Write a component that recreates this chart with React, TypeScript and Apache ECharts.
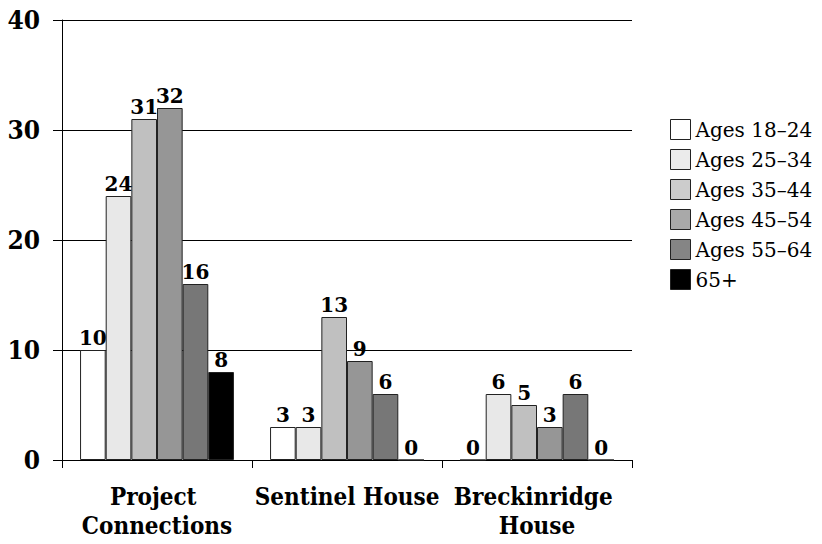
import React, { useEffect, useRef } from "react";
import * as echarts from "echarts";

const categories = ["Project Connections", "Sentinel House", "Breckinridge House"];
const seriesNames = ["Ages 18–24", "Ages 25–34", "Ages 35–44", "Ages 45–54", "Ages 55–64", "65+"];
const seriesValues = [
  [10, 3, 0],
  [24, 3, 6],
  [31, 13, 5],
  [32, 9, 3],
  [16, 6, 6],
  [8, 0, 0],
];
const seriesColors = ["#ffffff", "#e8e8e8", "#c0c0c0", "#969696", "#777777", "#000000"];
const legendColors = ["#ffffff", "#ebebeb", "#cccccc", "#a9a9a9", "#858585", "#000000"];

export default function App() {
  const ref = useRef<HTMLDivElement>(null);
  useEffect(() => {
    const chart = echarts.init(ref.current!, undefined, { renderer: "svg" });
    const serifC = "'DejaVu Serif Condensed', 'DejaVu Serif', serif";
    chart.setOption({
      animation: false,
      backgroundColor: "#ffffff",
      grid: { left: 62, right: 190, top: 20, bottom: 84, containLabel: false },
      legend: {
        orient: "vertical",
        left: 670,
        top: 119,
        itemWidth: 20,
        itemHeight: 20,
        itemGap: 9,
        padding: 0,
        icon: "rect",
        textStyle: { fontFamily: "'DejaVu Serif', serif", fontSize: 20, lineHeight: 20, color: "#000" },
        data: seriesNames.map((n, i) => ({
          name: n,
          itemStyle: { color: legendColors[i], borderColor: "#222", borderWidth: 1 },
        })),
      },
      xAxis: {
        type: "category",
        data: categories,
        axisLine: { show: true, lineStyle: { color: "#000", width: 1 } },
        axisTick: { show: true, length: 8, lineStyle: { color: "#000" } },
        axisLabel: {
          interval: 0,
          margin: 22,
          width: 186,
          overflow: "break",
          fontFamily: serifC,
          fontWeight: "bold",
          fontSize: 24,
          lineHeight: 29,
          color: "#000",
        },
      },
      yAxis: {
        type: "value",
        min: 0,
        max: 40,
        interval: 10,
        axisLine: { show: true, lineStyle: { color: "#000", width: 1 } },
        axisTick: { show: true, length: 9, lineStyle: { color: "#000" } },
        splitLine: { show: true, lineStyle: { color: "#000", width: 1 } },
        axisLabel: {
          margin: 22,
          fontFamily: serifC,
          fontWeight: "bold",
          fontSize: 26,
          color: "#000",
        },
      },
      series: seriesNames.map((n, i) => ({
        name: n,
        type: "bar",
        data: seriesValues[i],
        barGap: "0%",
        barCategoryGap: "19%",
        itemStyle: { color: seriesColors[i], borderColor: "#222", borderWidth: 1 },
        label: {
          show: true,
          position: "top",
          distance: 2,
          fontFamily: "'DejaVu Serif', serif",
          fontWeight: "bold",
          fontSize: 20,
          color: "#000",
        },
      })),
    });
    return () => chart.dispose();
  }, []);
  return <div ref={ref} style={{ width: 822, height: 544, position: "absolute", left: 0, top: 0 }} />;
}
